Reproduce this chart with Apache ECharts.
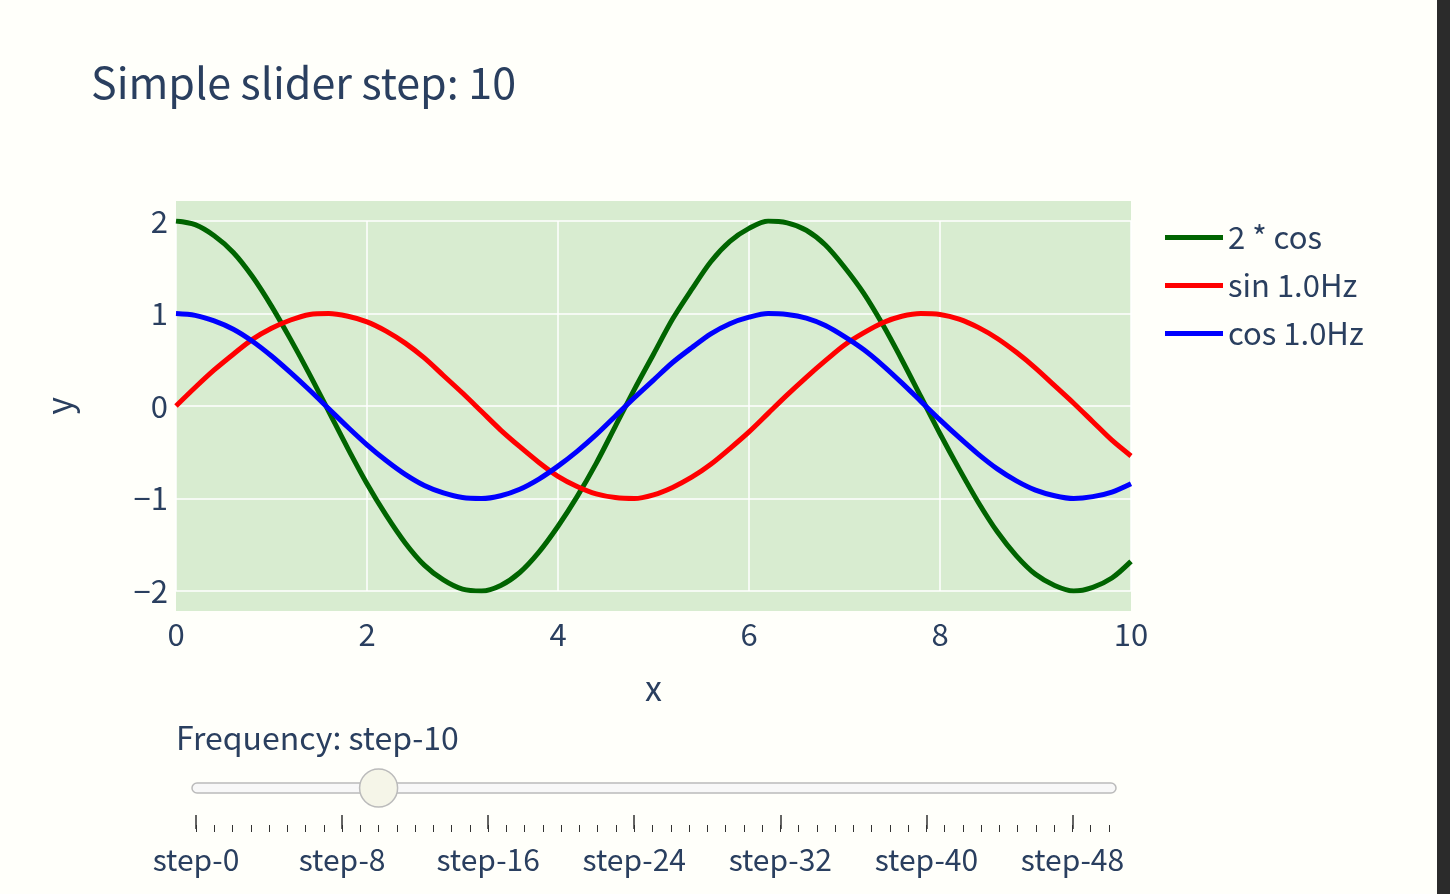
<!DOCTYPE html>
<html><head><meta charset="utf-8">
<script src="https://cdn.jsdelivr.net/npm/echarts@6/dist/echarts.min.js"></script>
<style>html,body{margin:0;padding:0;background:#fffffa}#c{width:1450px;height:894px}</style>
</head><body><div id="c"></div>
<script>
const xs = [0,0.2,0.4,0.6,0.8,1,1.2,1.4,1.6,1.8,2,2.2,2.4,2.6,2.8,3,3.2,3.4,3.6,3.8,4,4.2,4.4,4.6,4.8,5,5.2,5.4,5.6,5.8,6,6.2,6.4,6.6,6.8,7,7.2,7.4,7.6,7.8,8,8.2,8.4,8.6,8.8,9,9.2,9.4,9.6,9.8,10];
const sinVals = [0,.20,.39,.56,.72,.84,.93,.99,1.00,.97,.91,.81,.68,.52,.33,.14,-.06,-.26,-.44,-.61,-.76,-.87,-.95,-.99,-1.00,-.96,-.88,-.77,-.63,-.46,-.28,-.08,.12,.31,.49,.66,.79,.90,.97,1.00,.99,.94,.85,.73,.58,.41,.22,.03,-.17,-.37,-.54];
const cosVals = [1,.98,.92,.83,.70,.54,.36,.17,-.03,-.23,-.42,-.59,-.74,-.86,-.94,-.99,-1.00,-.97,-.90,-.79,-.65,-.49,-.31,-.11,.09,.28,.47,.63,.78,.89,.96,1.00,.99,.95,.87,.75,.61,.44,.25,.05,-.15,-.34,-.52,-.68,-.81,-.91,-.97,-1.00,-.98,-.93,-.84];
const cos2Vals = [2,1.96,1.84,1.66,1.40,1.08,.72,.34,-.06,-.46,-.84,-1.18,-1.48,-1.72,-1.88,-1.98,-2.00,-1.94,-1.80,-1.58,-1.30,-.98,-.62,-.22,.18,.56,.94,1.26,1.56,1.78,1.92,2.00,1.98,1.90,1.74,1.50,1.22,.88,.50,.10,-.30,-.68,-1.04,-1.36,-1.62,-1.82,-1.94,-2.00,-1.96,-1.86,-1.68];
const seriesNames = ['2 * cos','sin 1.0Hz','cos 1.0Hz'];
const stepLabels = Array.from({length:51},(_,i)=>'step-'+i);
const currentStep = 10;

const F = '"Noto Sans CJK JP","Noto Sans",sans-serif';
const pair = a => xs.map((x,i)=>[x,a[i]]);
const chart = echarts.init(document.getElementById('c'));
chart.setOption({
  backgroundColor:'#fffffa',
  animation:false,
  title:{text:'Simple slider step: 10',left:86,top:56,textStyle:{fontFamily:F,fontSize:43,fontWeight:'normal',color:'#2a3f5f'}},
  legend:{orient:'vertical',left:1160,top:217,itemWidth:58,itemHeight:5,itemGap:17,icon:'rect',
    textStyle:{fontFamily:F,fontSize:31,color:'#2a3f5f'},data:seriesNames},
  grid:[{left:176,right:319,top:221,bottom:303,borderWidth:0},
        {left:196,right:341,top:815,height:10}],
  xAxis:[{type:'value',min:0,max:10,interval:2,gridIndex:0,name:'x',nameLocation:'middle',nameGap:80,
    nameTextStyle:{fontFamily:F,fontSize:34,color:'#2a3f5f'},
    axisLine:{show:false},axisTick:{show:false},splitLine:{lineStyle:{color:'#fff',width:1.5}},
    axisLabel:{fontFamily:F,fontSize:31,color:'#2a3f5f',margin:28}},
    {type:'category',gridIndex:1,data:stepLabels,boundaryGap:false,position:'top',
     axisLine:{show:false},axisTick:{show:true,length:-7,interval:0,lineStyle:{color:'#333'}},
     axisLabel:{show:false},splitLine:{show:false}},
    {type:'category',gridIndex:1,data:stepLabels,boundaryGap:false,position:'top',
     axisLine:{show:false},axisTick:{show:true,length:-14,interval:i=>i%8===0,lineStyle:{color:'#333',width:1.5}},
     axisLabel:{show:false},splitLine:{show:false}},
    {type:'category',gridIndex:1,data:stepLabels,boundaryGap:false,position:'bottom',
     axisLine:{show:false},axisTick:{show:false},
     axisLabel:{interval:i=>i%8===0,fontFamily:F,fontSize:30,color:'#2a3f5f',margin:20}}],
  yAxis:[{type:'value',min:-2,max:2,interval:1,gridIndex:0,name:'y',nameLocation:'middle',nameGap:100,
    nameTextStyle:{fontFamily:F,fontSize:34,color:'#2a3f5f'},
    axisLine:{show:false},axisTick:{show:false},splitLine:{lineStyle:{color:'#fff',width:1.5}},
    axisLabel:{fontFamily:F,fontSize:31,color:'#2a3f5f',margin:8,
      formatter:v=>String(v).replace('-','\u2212')}},
    {type:'value',gridIndex:1,show:false}],
  series:[
    {name:seriesNames[0],type:'line',data:pair(cos2Vals),showSymbol:false,smooth:0.3,lineStyle:{color:'#006400',width:5},itemStyle:{color:'#006400'}},
    {name:seriesNames[1],type:'line',data:pair(sinVals),showSymbol:false,smooth:0.3,lineStyle:{color:'#ff0000',width:5},itemStyle:{color:'#ff0000'}},
    {name:seriesNames[2],type:'line',data:pair(cosVals),showSymbol:false,smooth:0.3,lineStyle:{color:'#0000ff',width:5},itemStyle:{color:'#0000ff'}}
  ],
  graphic:[
    {type:'rect',z:-10,shape:{x:176,y:201,width:955,height:410},style:{fill:'#d8ecd0'}},
    {type:'text',left:176,top:722,style:{text:'Frequency: '+stepLabels[currentStep],font:'32px '+F,fill:'#2a3f5f'}},
    {type:'rect',shape:{x:192,y:783,width:924,height:10,r:5},style:{fill:'#f8f8f8',stroke:'#bbb',lineWidth:1.5}},
    {type:'circle',shape:{cx:196+currentStep*18.26,cy:788,r:19},style:{fill:'#f5f5e8',stroke:'#bbb',lineWidth:1.5}},
    {type:'rect',shape:{x:1437,y:0,width:13,height:894},style:{fill:'#2b2b2b'}}
  ]
});
</script></body></html>
